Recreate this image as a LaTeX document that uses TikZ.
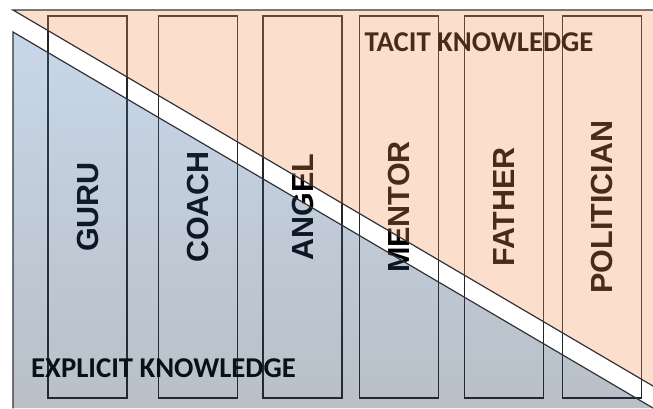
\documentclass[tikz,border=0pt]{standalone}
\usepackage{fontspec}
\setmainfont{Liberation Sans}
\newfontfamily\calibrifont{Carlito}
\usetikzlibrary{positioning}
\definecolor{tacitorange}{RGB}{245,145,88}
\definecolor{explicittop}{RGB}{72,122,178}
\definecolor{explicitbot}{RGB}{22,45,72}
\definecolor{edgegray}{RGB}{50,50,55}
\tikzset{
  rolebox/.style={draw=black!85, line width=1.1pt, rotate=90,
    minimum width=382pt, minimum height=79pt, inner sep=0pt,
    font=\fontsize{30.5}{30.5}\selectfont\bfseries},
  kindlabel/.style={font=\calibrifont\fontsize{28.7}{28.7}\selectfont\bfseries,
    inner sep=0pt}
}

\begin{document}
\begin{tikzpicture}[x=1pt,y=-1pt,line cap=round]

    \useasboundingbox (0,0) rectangle (653,408);

	% the six roles
	\node (guru) [rolebox] at (87.5,207) {GURU};
	\node (coach) [rolebox] at (198,207) {COACH};
	\node (angel) [rolebox] at (302.5,207) {ANGEL};
	\node (mentor) [rolebox] at (399,207) {MENTOR};
	\node (father) [rolebox] at (504,207) {FATHER};
	\node (politician) [rolebox] at (602,207) {POLITICIAN};

	\node (tacit) [kindlabel] at (479,42) {TACIT KNOWLEDGE};
	\node (explicit) [kindlabel] at (163.5,368) {EXPLICIT KNOWLEDGE};

	% the two triangles, laid over the roles
	\fill [tacitorange, fill opacity=0.3] (13,10) -- (653,10) -- (653,386) -- cycle;
	\shade [top color=explicittop, bottom color=explicitbot, fill opacity=0.3]
	  (13,32) -- (13,408) -- (653,408) -- cycle;

	\draw [line width=1.2pt, edgegray] (653,10) -- (13,10) -- (653,386);
	\draw [line width=1.2pt, edgegray] (13,408) -- (13,32) -- (653,408);

\end{tikzpicture}
\end{document}
